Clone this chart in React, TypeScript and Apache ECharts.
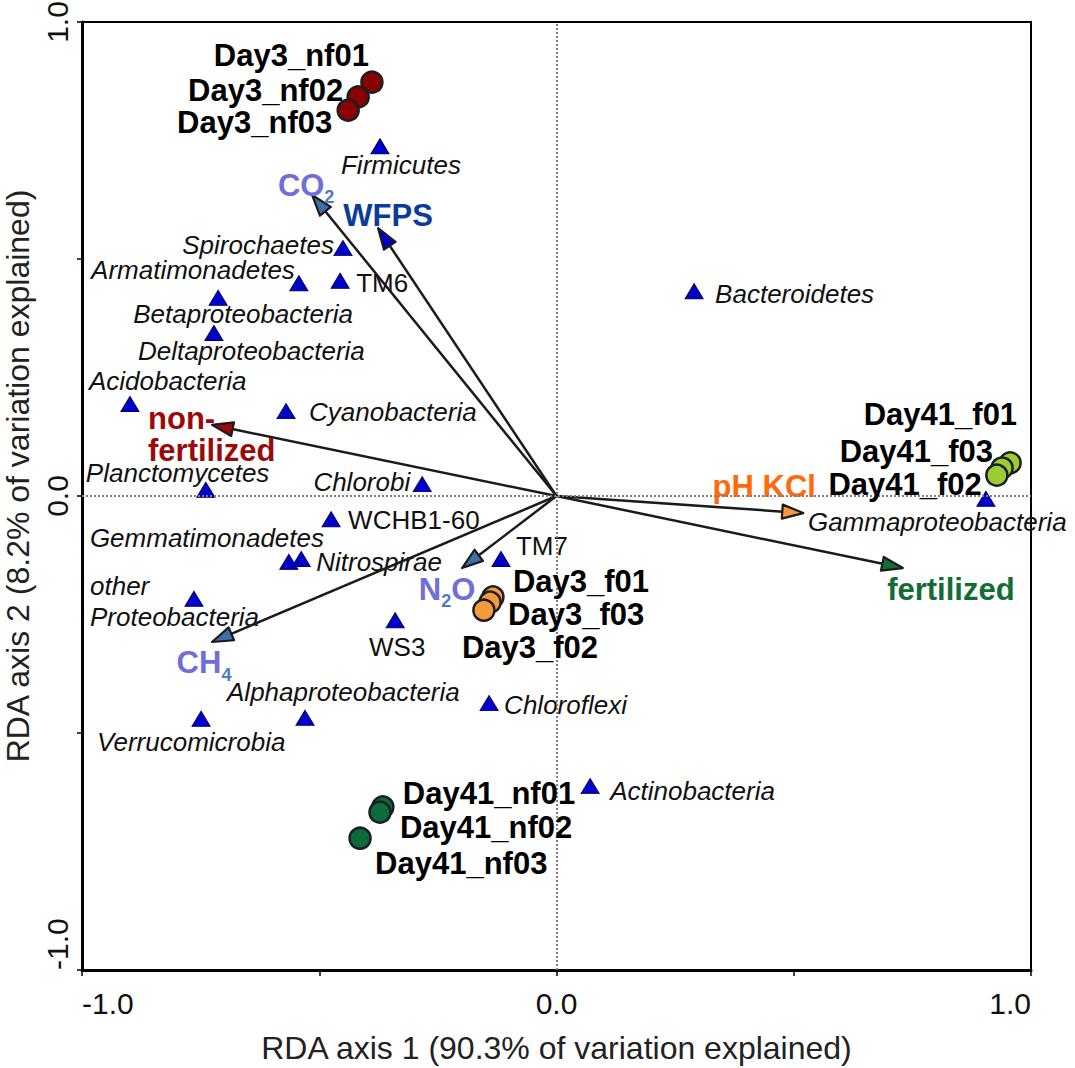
import React, { useEffect, useRef } from "react";
import * as echarts from "echarts";

// Taxa (response variables) scores on RDA axes 1 and 2
const taxaNames = [
  "Firmicutes", "Spirochaetes", "TM6", "Armatimonadetes", "Betaproteobacteria",
  "Deltaproteobacteria", "Acidobacteria", "Cyanobacteria", "Planctomycetes", "Chlorobi",
  "WCHB1-60", "Gemmatimonadetes", "Nitrospirae", "TM7", "other\nProteobacteria",
  "WS3", "Alphaproteobacteria", "Verrucomicrobia", "Chloroflexi", "Actinobacteria",
  "Bacteroidetes", "Gammaproteobacteria",
];
const taxaX = [
  -0.372, -0.45, -0.456, -0.543, -0.713, -0.722, -0.899, -0.57, -0.739, -0.283,
  -0.475, -0.564, -0.538, -0.117, -0.764, -0.34, -0.53, -0.749, -0.142, 0.071,
  0.29, 0.905,
];
const taxaY = [
  0.738, 0.523, 0.454, 0.449, 0.418, 0.344, 0.194, 0.179, 0.013, 0.025,
  -0.049, -0.139, -0.133, -0.133, -0.217, -0.262, -0.468, -0.47, -0.437, -0.612,
  0.432, -0.006,
];
// Candidate phyla / OTU groups written in upright type
const uprightTaxa = ["TM6", "WCHB1-60", "TM7", "WS3"];

// Sample scores
const sampleGroups = ["Day3_nf", "Day3_f", "Day41_f", "Day41_nf"];
const groupColors = ["#8B0000", "#F59A3C", "#9ACD32", "#0B6B3A"];
const sampleNames = [
  ["Day3_nf01", "Day3_nf02", "Day3_nf03"],
  ["Day3_f01", "Day3_f03", "Day3_f02"],
  ["Day41_f01", "Day41_f03", "Day41_f02"],
  ["Day41_nf01", "Day41_nf02", "Day41_nf03"],
];
const sampleX = [
  [-0.389, -0.418, -0.439],
  [-0.134, -0.14, -0.153],
  [0.956, 0.939, 0.928],
  [-0.366, -0.372, -0.414],
];
const sampleY = [
  [0.873, 0.842, 0.814],
  [-0.213, -0.224, -0.241],
  [0.07, 0.059, 0.044],
  [-0.656, -0.667, -0.722],
];

// Explanatory variables (arrow tips)
const envNames = ["CO2", "WFPS", "non-fertilized", "N2O", "CH4", "pH KCl", "fertilized"];
const envX = [-0.515, -0.376, -0.726, -0.199, -0.726, 0.52, 0.73];
const envY = [0.635, 0.565, 0.15, -0.152, -0.308, -0.036, -0.152];

// Axis tick labels
const tickLabels: Record<string, string> = { "-1": "-1.0", "0": "0.0", "1": "1.0" };

const FONT = "'Liberation Sans', Arial, Helvetica, sans-serif";

// Label placement next to each mark: [align, dx, dy] in pixels
const labelPlacement: Record<string, [string, number, number]> = {
  Firmicutes: ["left", -39, 19],
  Spirochaetes: ["right", -9, -3],
  TM6: ["left", 16, 2],
  Armatimonadetes: ["right", -4, -13],
  Betaproteobacteria: ["left", -85, 16],
  Deltaproteobacteria: ["left", -76, 18],
  Acidobacteria: ["left", -41, -23],
  Cyanobacteria: ["left", 23, 1],
  Planctomycetes: ["left", -120, -17],
  Chlorobi: ["right", -12, -2],
  "WCHB1-60": ["left", 17, 1],
  Gemmatimonadetes: ["left", -199, -24],
  Nitrospirae: ["left", 15, 3],
  TM7: ["left", 15, -13],
  "other\nProteobacteria": ["left", -104, 3],
  WS3: ["center", 2, 27],
  Alphaproteobacteria: ["left", -78, -26],
  Verrucomicrobia: ["left", -104, 23],
  Chloroflexi: ["left", 15, 2],
  Actinobacteria: ["left", 20, 5],
  Bacteroidetes: ["left", 21, 3],
  Gammaproteobacteria: ["left", -178, 23],
  Day3_nf01: ["right", -3, -27],
  Day3_nf02: ["right", -15, -6],
  Day3_nf03: ["right", -16, 12],
  Day3_f01: ["left", 20, -15],
  Day3_f03: ["left", 18, 12],
  Day3_f02: ["left", -22, 37],
  Day41_f01: ["right", 7, -48],
  Day41_f03: ["right", -9, -17],
  Day41_f02: ["right", -15, 9],
  Day41_nf01: ["left", 20, -13],
  Day41_nf02: ["left", 20, 15],
  Day41_nf03: ["left", 15, 25],
};

// Arrow label text, colours and placement relative to the tip
const envStyle: Record<string, { text: string; color: string; head: string; align: string; dx: number; dy: number }> = {
  CO2: { text: "{m|CO}{s|2}", color: "#6F6FD6", head: "#3D6FA8", align: "center", dx: -6, dy: -10 },
  WFPS: { text: "WFPS", color: "#0A3C9C", head: "#0000CC", align: "center", dx: 10, dy: -13 },
  "non-fertilized": { text: "non-\nfertilized", color: "#9B0A0A", head: "#9B0A0A", align: "left", dx: -64, dy: 10 },
  N2O: { text: "{m|N}{s|2}{m|O}", color: "#6F6FD6", head: "#3D6FA8", align: "center", dx: -15, dy: 21 },
  CH4: { text: "{m|CH}{s|4}", color: "#6F6FD6", head: "#3D6FA8", align: "center", dx: -8, dy: 21 },
  "pH KCl": { text: "pH KCl", color: "#FF6A0A", head: "#F59A3C", align: "center", dx: -39, dy: -27 },
  fertilized: { text: "fertilized", color: "#136B36", head: "#136B36", align: "center", dx: 48, dy: 21 },
};

function fmtTick(v: number) {
  const key = String(Math.round(v * 10) / 10);
  return tickLabels[key] ?? "";
}

export default function App() {
  const ref = useRef<HTMLDivElement>(null);

  useEffect(() => {
    if (!ref.current) return;
    const chart = echarts.init(ref.current, undefined, { renderer: "svg" });

    const taxaData = taxaNames.map((n, i) => {
      const [align, dx, dy] = labelPlacement[n];
      return {
        name: n,
        value: [taxaX[i], taxaY[i]],
        label: {
          align,
          offset: [dx, dy],
          fontStyle: uprightTaxa.includes(n) ? "normal" : "italic",
        },
      };
    });

    const sampleSeries = sampleGroups.map((g, gi) => ({
      name: g,
      type: "scatter",
      z: 5,
      symbol: "circle",
      symbolSize: 21,
      itemStyle: { color: groupColors[gi], borderColor: "#1b1c24", borderWidth: 2.5, opacity: 1 },
      label: {
        show: true,
        position: "inside",
        verticalAlign: "middle",
        formatter: "{b}",
        fontFamily: FONT,
        fontWeight: "bold",
        fontSize: 31,
        color: "#000",
      },
      data: sampleNames[gi].map((n, i) => {
        const [align, dx, dy] = labelPlacement[n];
        return { name: n, value: [sampleX[gi][i], sampleY[gi][i]], label: { align, offset: [dx, dy] } };
      }),
    }));

    const option: any = {
      animation: false,
      backgroundColor: "#ffffff",
      grid: {
        left: 82,
        right: 44,
        top: 22,
        bottom: 98,
        outerBoundsMode: "none",
        containLabel: false,
        show: true,
        borderColor: "#000",
        borderWidth: 2,
        backgroundColor: "transparent",
      },
      xAxis: {
        type: "value",
        min: -1,
        max: 1,
        interval: 0.5,
        name: "RDA axis 1 (90.3% of variation explained)",
        nameLocation: "middle",
        nameGap: 62,
        nameTextStyle: { fontFamily: FONT, fontSize: 32, color: "#222" },
        axisLine: { show: true, onZero: false, lineStyle: { color: "#000", width: 3 } },
        axisTick: { show: true, length: 6, lineStyle: { color: "#000", width: 1.5 } },
        splitLine: { show: false },
        axisLabel: {
          formatter: fmtTick,
          fontFamily: FONT,
          fontSize: 30,
          color: "#111",
          margin: 18,
          alignMinLabel: "left",
          alignMaxLabel: "right",
        },
      },
      yAxis: {
        type: "value",
        min: -1,
        max: 1,
        interval: 0.5,
        name: "RDA axis 2 (8.2% of variation explained)",
        nameLocation: "middle",
        nameGap: 36,
        nameTextStyle: { fontFamily: FONT, fontSize: 32, color: "#222", padding: [0, 0, 0, 40] },
        axisLine: { show: true, onZero: false, lineStyle: { color: "#000", width: 3 } },
        axisTick: { show: true, length: 5, lineStyle: { color: "#000", width: 1.5 } },
        splitLine: { show: false },
        axisLabel: {
          formatter: fmtTick,
          rotate: 90,
          fontFamily: FONT,
          fontSize: 30,
          color: "#111",
          margin: 10,
          alignMinLabel: "left",
        },
      },
      series: [
        {
          // dotted zero lines
          type: "scatter",
          z: 1,
          data: [],
          markLine: {
            silent: true,
            symbol: ["none", "none"],
            label: { show: false },
            lineStyle: { color: "#7f7f7f", type: [2, 2], width: 2 },
            data: [{ xAxis: 0 }, { yAxis: 0 }],
          },
        },
        {
          name: "taxa",
          type: "scatter",
          z: 3,
          symbol: "triangle",
          symbolSize: [18, 15],
          itemStyle: { color: "#0000CC", borderColor: "#00005A", borderWidth: 1, opacity: 1 },
          label: {
            show: true,
            position: "inside",
            verticalAlign: "middle",
            formatter: "{b}",
            fontFamily: FONT,
            fontSize: 26,
            lineHeight: 31,
            color: "#111",
          },
          data: taxaData,
        },
        {
          name: "env",
          type: "custom",
          z: 4,
          data: envNames.map((n, i) => ({ name: n, value: [envX[i], envY[i]] })),
          renderItem: (params: any, api: any) => {
            const name = envNames[params.dataIndex];
            const st = envStyle[name];
            const o = api.coord([0, 0]);
            const t = api.coord([api.value(0), api.value(1)]);
            const dx = t[0] - o[0];
            const dy = t[1] - o[1];
            const len = Math.hypot(dx, dy);
            const ux = dx / len;
            const uy = dy / len;
            const headLen = 21;
            const headW = 7;
            const bx = t[0] - ux * headLen;
            const by = t[1] - uy * headLen;
            const left = [bx - uy * headW, by + ux * headW];
            const right = [bx + uy * headW, by - ux * headW];
            return {
              type: "group",
              children: [
                {
                  type: "line",
                  shape: { x1: o[0], y1: o[1], x2: bx + ux * 4, y2: by + uy * 4 },
                  style: { stroke: "#1b1b1b", lineWidth: 2.5 },
                },
                {
                  type: "polygon",
                  shape: { points: [t, left, right] },
                  style: { fill: st.head, stroke: "#1b1b1b", lineWidth: 2.2, lineJoin: "round" },
                },
                {
                  type: "text",
                  x: t[0] + st.dx,
                  y: t[1] + st.dy,
                  style: {
                    text: st.text,
                    fill: st.color,
                    fontFamily: FONT,
                    fontWeight: "bold",
                    fontSize: 31,
                    lineHeight: 32,
                    align: st.align,
                    verticalAlign: "middle",
                    rich: {
                      m: { fontFamily: FONT, fontWeight: "bold", fontSize: 31, fill: st.color, color: st.color },
                      s: {
                        fontFamily: FONT,
                        fontWeight: "bold",
                        fontSize: 18,
                        fill: "#4A7CC2",
                        color: "#4A7CC2",
                        verticalAlign: "bottom",
                        padding: [0, 0, -5, 0],
                      },
                    },
                  },
                },
              ],
            };
          },
        },
        ...sampleSeries,
      ],
    };

    chart.setOption(option);
    return () => chart.dispose();
  }, []);

  return (
    <div
      ref={ref}
      style={{ position: "fixed", left: 0, top: 0, width: 1075, height: 1068, background: "#fff" }}
    />
  );
}
